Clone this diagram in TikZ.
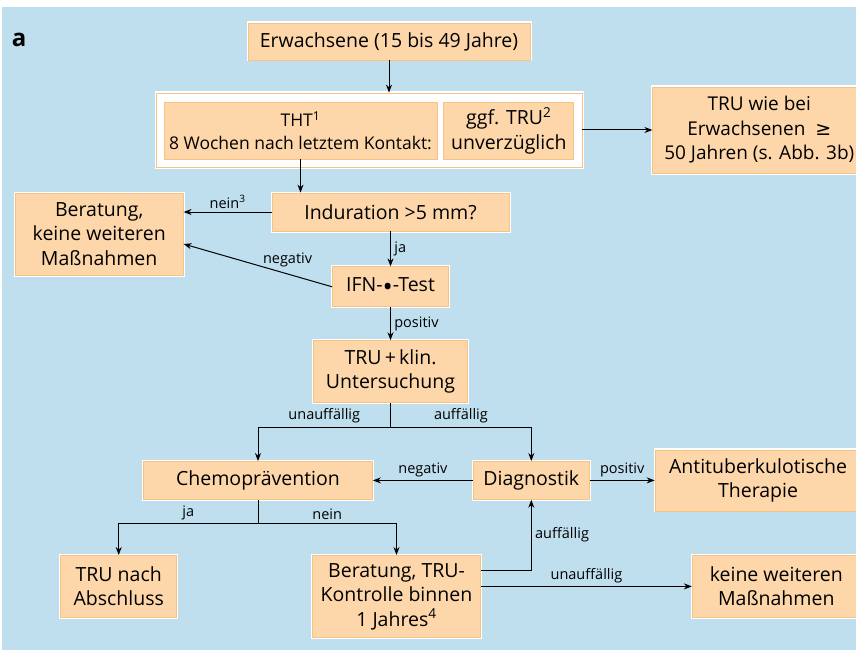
\documentclass[tikz,border=0pt]{standalone}
\usepackage{fontspec}
\setmainfont{Open Sans}
\newfontfamily\symfont{DejaVu Sans}
\usetikzlibrary{positioning,arrows.meta}
\definecolor{bgblue}{HTML}{BFDFEE}
\definecolor{boxfill}{HTML}{FDD7AA}
\definecolor{boxline}{HTML}{F8C283}
\tikzset{>={Stealth[length=8pt,width=6pt]}}
\tikzstyle{box} = [draw=boxline, fill=boxfill, line width=0.8pt,
    preaction={draw=white, line width=3pt}, align=center,
    font=\fontsize{19.5}{24.5}\selectfont]
\tikzstyle{outerbox} = [draw=boxline, fill=white, line width=0.8pt,
    preaction={draw=white, line width=3pt}]
\tikzstyle{lbl} = [font=\fontsize{14.5}{17}\selectfont]
\newcommand{\bigdot}{\raisebox{-5pt}{\scalebox{1.4}{\textbullet}}}

\begin{document}
\begin{tikzpicture}[x=1pt, y=1pt, line width=1pt]
    \useasboundingbox (0,0) rectangle (856,-650);
    \clip (0,0) rectangle (856,-650);
    \fill [white] (0,0) rectangle (856,-650);
    \fill [bgblue] (2,-7) rectangle (856,-650);
    \node [font=\fontsize{24}{28}\selectfont\bfseries] (lbla) at (19,-40) {a};
    \node [box, minimum width=282pt, minimum height=37pt] (erw) at (389,-41.5) {Erwachsene (15 bis 49 Jahre)};
    \node [outerbox, minimum width=426pt, minimum height=74pt] (thtframe) at (369,-130) {};
    \node [box, minimum width=273pt, minimum height=57pt, font=\fontsize{17.5}{23}\selectfont] (tht) at (300.5,-130.5) {THT\textsuperscript{1}\\8 Wochen nach letztem Kontakt:};
    \node [box, minimum width=130pt, minimum height=57pt, right=6pt of tht] (ggf) {ggf. TRU\textsuperscript{2}\\unverzüglich};
    \node [box, minimum width=213pt, minimum height=86pt, right=70pt of thtframe, font=\fontsize{19}{24.5}\selectfont] (truwie) {TRU wie bei\\Erwachsenen~ {\symfont ≥}\\50 Jahren (s. Abb. 3b)};
    \node [box, minimum width=237pt, minimum height=38pt] (ind) at (390.5,-212) {Induration >5 mm?};
    \node [box, minimum width=168pt, minimum height=82pt, left=88pt of ind.north west, anchor=north east] (ber1) {Beratung,\\keine weiteren\\Maßnahmen};
    \node [box, minimum width=116pt, minimum height=40pt, below=35pt of ind] (ifn) {IFN-\bigdot-Test};
    \node [box, minimum width=154pt, minimum height=62pt, below=33pt of ifn] (truk) {TRU\,+\,klin.\\Untersuchung};
    \node [box, minimum width=116pt, minimum height=38pt, below right=58pt and 5pt of truk] (diag) {Diagnostik};
    \node [box, minimum width=229pt, minimum height=38pt, left=100pt of diag] (chemo) {Chemoprävention};
    \node [box, minimum width=206pt, minimum height=61pt, right=65pt of diag] (anti) {Antituberkulotische\\Therapie};
    \node [box, minimum width=168pt, minimum height=82pt, below=152pt of truk, xshift=6pt] (ber2) {Beratung, TRU-\\Kontrolle binnen\\1 Jahres\textsuperscript{4}};
    \node [box, minimum width=116pt, minimum height=62pt, left=135pt of ber2.north west, anchor=north east] (trun) {TRU nach\\Abschluss};
    \node [box, minimum width=168pt, minimum height=62pt, right=211pt of ber2.north east, anchor=north west] (keine) {keine weiteren\\Maßnahmen};
    \coordinate [below=24pt of truk] (split1);
    \coordinate [below=24pt of chemo] (split2);
    \draw [->] (erw) -- (erw |- thtframe.north);
    \draw [->] (thtframe) -- (truwie);
    \draw [->] (tht.south) -- (tht.south |- ind.north);
    \draw [->] (ind) -- node [lbl, above] {nein\textsuperscript{3}} (ind -| ber1.east);
    \draw [->] (ind) -- node [lbl, right] {ja} (ifn);
    \draw [->] (ifn.west) -- node [lbl, pos=0.3, above=3pt] {negativ} ([yshift=-10pt]ber1.east);
    \draw [->] (ifn) -- node [lbl, right] {positiv} (truk);
    \draw (truk) -- (split1);
    \draw [->] (split1) -| node [lbl, pos=0.25, above] {unauffällig} (chemo);
    \draw [->] (split1) -| node [lbl, pos=0.25, above] {auffällig} (diag);
    \draw [->] (diag) -- node [lbl, above] {negativ} (chemo);
    \draw [->] (diag) -- node [lbl, above] {positiv} (anti);
    \draw (chemo) -- (split2);
    \draw [->] (split2) -| node [lbl, pos=0.25, above] {ja} (trun);
    \draw [->] (split2) -| node [lbl, pos=0.25, above] {nein} (ber2);
    \draw [->] ([yshift=26pt]ber2.east) -| node [lbl, pos=0.75, right] {auffällig} (diag);
    \draw [->] ([yshift=10pt]ber2.east) -- node [lbl, above] {unauffällig} (keine.west);
\end{tikzpicture}
\end{document}
